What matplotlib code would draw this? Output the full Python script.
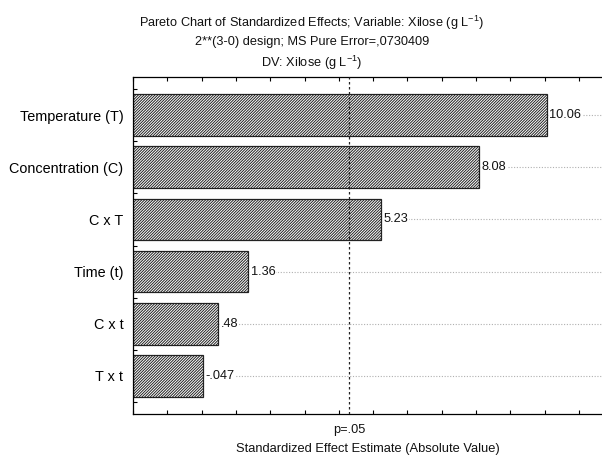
import matplotlib
matplotlib.use("Agg")
import matplotlib.pyplot as plt
import numpy as np

plt.rcParams['font.family'] = ['Liberation Sans', 'DejaVu Sans']
plt.rcParams['mathtext.fontset'] = 'custom'
plt.rcParams['mathtext.rm'] = 'Liberation Sans'
plt.rcParams['mathtext.it'] = 'Liberation Sans'
plt.rcParams['hatch.color'] = '#666666'
plt.rcParams['hatch.linewidth'] = 0.7

# effects, sorted by size (top to bottom)
effects = ['Temperature (T)', 'Concentration (C)', 'C x T', 'Time (t)', 'C x t', 'T x t']
values = [10.06, 8.08, 5.23, 1.36, 0.48, 0.047]
value_labels = ['10.06', '8.08', '5.23', '1.36', '.48', '-.047']
t_crit = 4.303  # p=.05, df=2
x_min = -2.0
x_max = 11.67

fig = plt.figure(figsize=(6.02, 4.57), dpi=100)
ax = fig.add_axes([0.221, 0.094, 0.779, 0.7375])

y = np.arange(len(effects))
vals = np.array(values)

for yy in y:
    ax.axhline(yy, color='#b0b0b0', linestyle=(0, (1, 1.5)), linewidth=0.8, zorder=0)

ax.barh(y, vals - x_min, left=x_min, height=0.8, color='white', edgecolor='#222222',
        hatch='////////////', linewidth=0.9, zorder=2)

for yy, v, lab in zip(y, vals, value_labels):
    ax.text(v + 0.07, yy, lab, va='center', ha='left', fontsize=9.2, color='#111111',
            bbox=dict(facecolor='white', edgecolor='none', pad=0.5), zorder=3)

ax.axvline(t_crit, color='#222222', linestyle=(0, (2, 2)), linewidth=0.9, zorder=4)

ax.set_xlim(x_min, x_max)
ax.set_ylim(len(effects) - 0.27, -0.73)

ax.set_yticks(y)
ax.set_yticklabels(effects, fontsize=10.4, color='#000000')
ax.set_yticks(np.arange(len(effects) + 1) - 0.5, minor=True)
ax.tick_params(axis='y', which='major', length=0, pad=7)
ax.tick_params(axis='y', which='minor', direction='in', length=3, width=0.8)

ax.set_xticks(np.arange(-2, 12))
ax.set_xticklabels([])
ax.tick_params(axis='x', which='major', direction='in', length=3, width=0.8,
               top=True, bottom=True)
ax.text(t_crit, -0.03, 'p=.05', transform=ax.get_xaxis_transform(), ha='center', va='top',
        fontsize=9.2, color='#111111')
ax.set_xlabel('Standardized Effect Estimate (Absolute Value)', fontsize=9.3,
              color='#111111', labelpad=17)

ax.spines['right'].set_visible(False)
for s in ['left', 'top', 'bottom']:
    ax.spines[s].set_linewidth(0.9)

fig.text(0.518, 0.950, r'Pareto Chart of Standardized Effects; Variable: Xilose (g L$^{-1}$)',
         ha='center', va='center', fontsize=9.2, color='#111111')
fig.text(0.518, 0.909, '2**(3-0) design; MS Pure Error=,0730409',
         ha='center', va='center', fontsize=9.2, color='#111111')
fig.text(0.518, 0.862, r'DV: Xilose (g L$^{-1}$)',
         ha='center', va='center', fontsize=9.2, color='#111111')

fig.savefig('out.png', dpi=100)
